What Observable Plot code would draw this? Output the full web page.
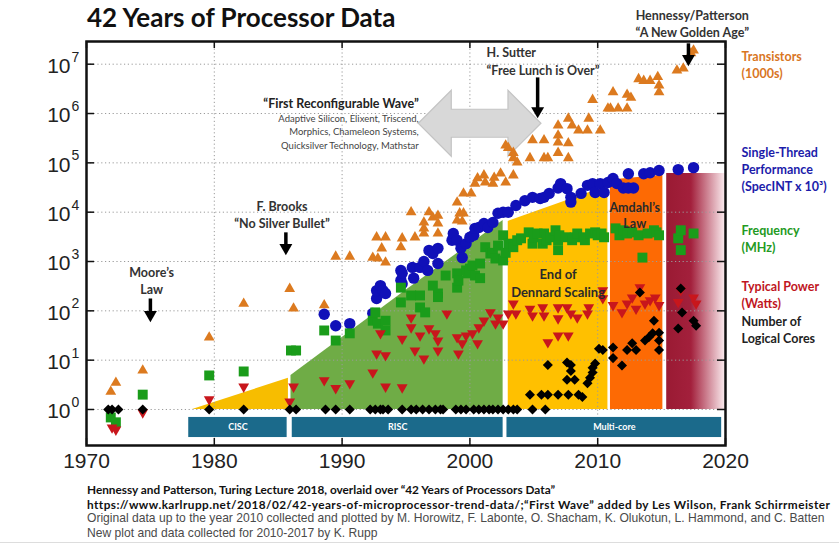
<!DOCTYPE html>
<html>
<head>
<meta charset="utf-8">
<script src="https://cdn.jsdelivr.net/npm/d3@7"></script>
<script src="https://cdn.jsdelivr.net/npm/@observablehq/plot@0.6"></script>
<style>
  body { margin: 0; background: #fff; }
  #page { position: relative; width: 839px; height: 550px; overflow: hidden; }
  #chart { position: absolute; left: 0; top: 0; }
  #title { position: absolute; left: 87px; top: 1px; margin: 0; font: bold 26px Lato, sans-serif; color: #111; }
  #caption { position: absolute; left: 87px; top: 482px; color: #111; }
  #caption div { height: 14.6px; line-height: 14.6px; white-space: nowrap; }
  #caption .b { font: bold 11.8px Lato, sans-serif; }
  #caption .wide { letter-spacing: 0.43px; }
  #caption .r { font: 12.1px "Liberation Sans", Arial, sans-serif; color: #4a4a4a; }
  #rule { position: absolute; left: 0; top: 542px; width: 839px; border-top: 1px solid #ddd; }
</style>
</head>
<body>
<div id="page">
  <div id="chart"></div>
  <h1 id="title">42 Years of Processor Data</h1>
  <div id="caption">
    <div class="b">Hennessy and Patterson, Turing Lecture 2018, overlaid over “42 Years of Processors Data”</div>
    <div class="b wide">https://www.karlrupp.net/2018/02/42-years-of-microprocessor-trend-data/;“First Wave” added by Les Wilson, Frank Schirrmeister</div>
    <div class="r">Original data up to the year 2010 collected and plotted by M. Horowitz, F. Labonte, O. Shacham, K. Olukotun, L. Hammond, and C. Batten</div>
    <div class="r">New plot and data collected for 2010-2017 by K. Rupp</div>
  </div>
  <div id="rule"></div>
</div>
<script>
// ---- Series: [year, value] ----
const transistors = [[1971.9,2.3],[1972.3,3.5],[1974.4,6.2],[1979.6,29],[1982.3,140],[1985.9,280],[1986.2,112],[1988.6,130],[1989.5,1260],[1990.6,1260],[1992.4,1200],[1992.7,3100],[1992.8,1150],[1993.1,1850],[1993.4,3100],[1993.4,960],[1994.6,1950],[1994.7,2950],[1995.4,10000],[1995.7,3100],[1996.4,6200],[1996.4,4700],[1996.4,3700],[1996.8,10000],[1997.1,7800],[1997.5,8500],[1997.5,5900],[1997.5,3700],[1999.0,15800],[1999.0,6800],[1999.2,9500],[1999.4,6500],[1999.5,9500],[1999.5,24000],[2000.1,24000],[2000.4,38000],[2000.6,49000],[2001.1,56000],[2001.2,40000],[2001.8,38000],[2001.9,50000],[2002.4,61000],[2002.8,40000],[2003.4,56000],[2002.8,226000],[2003.0,200000],[2003.4,160000],[2003.4,125000],[2003.7,102000],[2004.7,125000],[2004.9,288000],[2005.8,288000],[2005.8,125000],[2006.1,125000],[2006.9,360000],[2006.9,160000],[2006.9,575000],[2006.9,260000],[2007.7,790000],[2007.7,250000],[2007.7,125000],[2008.0,575000],[2008.5,455000],[2009.2,455000],[2009.3,790000],[2009.6,1900000],[2010.2,455000],[2010.8,1270000],[2011.0,1270000],[2011.6,1270000],[2012.3,1270000],[2011.2,2700000],[2012.3,2400000],[2012.6,2100000],[2013.2,5000000],[2013.6,4600000],[2014.1,4600000],[2014.7,5500000],[2014.8,3700000],[2014.8,2700000],[2016.2,7500000],[2016.7,8200000],[2017.3,16700000],[2017.5,19000000]];
const singleThread = [[1988.6,85],[1989.5,50],[1990.6,55],[1992.4,89],[1992.7,178],[1992.7,257],[1993.0,324],[1993.2,257],[1993.4,224],[1994.6,660],[1994.6,415],[1994.7,575],[1994.7,355],[1995.5,760],[1995.6,460],[1996.1,760],[1996.4,1000],[1996.7,660],[1996.8,1680],[1997.1,1450],[1997.5,1850],[1997.5,910],[1998.6,2700],[1998.7,3700],[1999.0,2700],[1999.3,1850],[1999.4,1200],[1999.7,2300],[2000.0,3100],[2000.3,3400],[2000.4,4700],[2000.7,4900],[2001.1,5900],[2001.4,4900],[2001.8,6200],[2002.2,9500],[2002.6,10000],[2003.0,10000],[2003.6,13700],[2004.3,17000],[2004.9,20000],[2005.5,19000],[2005.8,20000],[2006.2,24000],[2006.9,31000],[2007.1,38000],[2007.6,30000],[2007.9,20000],[2007.9,16000],[2008.7,24000],[2009.2,35000],[2009.6,38000],[2009.8,25000],[2010.2,38000],[2010.5,25000],[2010.8,40000],[2011.2,48000],[2011.5,38000],[2012.0,31000],[2012.4,31000],[2012.4,60000],[2012.8,31000],[2013.6,60000],[2014.1,63000],[2014.8,70000],[2016.3,73000],[2017.5,80000]];
const frequency = [[1971.9,0.69],[1972.3,0.55],[1974.4,2.0],[1979.6,4.9],[1982.3,5.9],[1986.0,15.7],[1986.4,15.7],[1988.6,40],[1989.5,25],[1990.6,35],[1992.4,63],[1992.6,93],[1992.8,55],[1993.4,63],[1993.4,40],[1994.6,295],[1994.6,148],[1995.4,205],[1996.1,205],[1996.1,117],[1996.5,93],[1997.1,325],[1997.5,225],[1997.5,190],[1998.1,520],[1999.0,575],[1999.0,295],[1999.1,410],[1999.7,660],[1999.8,575],[2000.0,720],[2000.2,830],[2000.4,520],[2000.8,910],[2000.8,460],[2001.2,1950],[2001.6,1450],[2001.8,1500],[2002.0,1150],[2002.2,2100],[2002.6,1050],[2002.6,3400],[2002.8,1500],[2003.0,2300],[2003.4,1950],[2003.7,2700],[2004.0,2950],[2004.6,3900],[2004.9,2300],[2005.0,3100],[2005.3,3700],[2005.7,2300],[2005.8,3700],[2006.0,2700],[2006.3,3100],[2006.7,4300],[2006.9,2700],[2006.9,1700],[2007.0,3400],[2007.5,3100],[2008.0,2700],[2008.2,3100],[2008.4,3700],[2008.9,3100],[2009.0,2700],[2009.4,3700],[2009.8,3900],[2010.0,3400],[2010.3,3700],[2010.5,3100],[2011.4,4700],[2011.7,3400],[2012.0,4300],[2012.3,3700],[2012.7,3900],[2013.2,3400],[2013.5,1200],[2013.9,3700],[2014.4,4300],[2014.6,3900],[2014.8,3400],[2016.3,2950],[2016.5,4300],[2016.5,1700],[2017.5,3700]];
const power = [[1972.0,0.43],[1972.3,0.39],[1974.4,0.87],[1979.6,1.6],[1982.3,2.9],[1985.9,1.45],[1986.2,2.9],[1988.6,3.9],[1989.5,2.7],[1990.6,3.4],[1992.4,5.6],[1992.7,13.6],[1993.0,35],[1993.4,12.5],[1993.4,2.9],[1994.7,27],[1994.7,2.8],[1995.4,73],[1995.4,46],[1995.7,15.7],[1996.1,31.6],[1996.4,10.8],[1996.8,44],[1997.3,35],[1997.5,25],[1997.5,15.7],[1998.2,88],[1999.0,29],[1999.1,13.6],[1999.4,22],[1999.7,31.6],[2000.2,35],[2000.6,22],[2000.7,46],[2001.1,63],[2001.6,93],[2002.0,55],[2002.2,73],[2002.6,55],[2003.0,88],[2003.4,140],[2003.6,88],[2004.7,110],[2004.9,80],[2005.7,117],[2005.8,80],[2006.1,23],[2006.9,117],[2006.9,70],[2006.9,31.6],[2007.6,117],[2007.7,31.6],[2007.9,88],[2008.4,73],[2009.2,88],[2009.3,117],[2010.4,260],[2010.4,180],[2011.2,130],[2011.9,93],[2012.3,140],[2012.7,185],[2013.0,110],[2013.3,300],[2013.7,140],[2014.1,163],[2014.5,185],[2014.8,130],[2016.3,150],[2016.5,260],[2017.5,185],[2017.7,140]];
const cores = [[1971.7,1],[1972.0,1],[1972.5,1],[1974.4,1],[1979.6,1],[1982.3,1],[1985.9,1],[1986.4,1],[1988.7,1],[1989.5,1],[1990.6,1],[1992.2,1],[1992.6,1],[1993.0,1],[1993.2,1],[1993.6,1],[1994.7,1],[1995.4,1],[1995.8,1],[1996.3,1],[1996.8,1],[1997.3,1],[1997.7,1],[1997.9,1],[1998.9,1],[1999.3,1],[1999.7,1],[2000.3,1],[2000.7,1],[2001.1,1],[2001.5,1],[2001.8,1],[2002.2,1],[2002.6,1],[2003.0,1],[2003.4,1],[2003.7,1],[2004.9,1],[2005.9,1],[2004.7,2],[2005.6,2],[2006.1,2],[2006.9,2],[2007.7,2],[2008.5,2],[2008.8,1.8],[2006.1,8],[2007.6,9],[2007.9,8],[2007.9,6],[2007.6,4],[2008.2,4],[2009.2,3.4],[2009.4,4.4],[2009.6,7],[2009.6,5.6],[2009.8,8.6],[2010.1,17],[2010.4,16],[2011.2,18],[2011.2,11],[2011.9,7.8],[2012.3,16],[2012.7,22],[2013.0,16],[2013.3,235],[2013.7,25],[2014.0,29],[2014.3,35],[2014.4,63],[2014.8,36],[2014.8,25],[2014.8,16],[2016.3,44],[2016.5,285],[2016.6,93],[2017.5,63],[2017.7,50]];

// ---- Era envelopes: [year, upper value], drawn down to 1 ----
const ciscWedge = [[1978.3,1],[1985.8,4.3]];
const riscEnvelope = [[1986.0,4.9],[1995.0,260],[2002.6,6800]];
const dennardEnvelope = [[2003.0,6500],[2010.8,34000]];
const amdahlEnvelope = [[2011.0,45000],[2015.1,56000]];
const recentEnvelope = [[2015.4,61000],[2020.0,61000]];

// ---- Architecture eras ----
const eraNames = ["CISC", "RISC", "Multi-core"];
const eraStart = [1978.0, 1986.1, 2002.9];
const eraEnd = [1985.7, 2002.6, 2019.7];

// ---- Ticks ----
const xTicks = [1970, 1980, 1990, 2000, 2010, 2020];
const yTicks = [1, 10, 100, 1e3, 1e4, 1e5, 1e6, 1e7];

// ---- Annotations ----
const pointerYears = [1975.0, 1985.6, 2005.3, 2017.1];
const pointerFrom = [178, 3900, 5.4e6, 2.65e7];
const pointerTo = [83, 1900, 1.13e6, 1.29e7];
const waveSpan = [1996.0, 2005.6];
const waveLevel = 6.2e5;

const legendLabels = ["Transistors\n(1000s)", "Single-Thread\nPerformance\n(SpecINT x 10³)", "Frequency\n(MHz)", "Typical Power\n(Watts)", "Number of\nLogical Cores"];
const legendColors = ["#d9761f", "#1c1caa", "#239a23", "#c0161e", "#222"];

// ---- Symbols ----
const triangleDown = {
  draw(ctx, size) {
    const s = Math.sqrt(size * 4 / Math.sqrt(3)), h = s * Math.sqrt(3) / 2;
    ctx.moveTo(0, 2 * h / 3); ctx.lineTo(s / 2, -h / 3); ctx.lineTo(-s / 2, -h / 3); ctx.closePath();
  }
};
const diamond = {
  draw(ctx, size) {
    const d = Math.sqrt(size / 2);
    ctx.moveTo(0, -d); ctx.lineTo(d, 0); ctx.lineTo(0, d); ctx.lineTo(-d, 0); ctx.closePath();
  }
};

const X = d => d[0], Y = d => d[1];
const font = "Lato, sans-serif";
const W = 839, H = 478, mL = 86, mR = 114, mT = 41, mB = 33;
const fw = W - mL - mR, fh = H - mT - mB;

// gradient definition for the post-2015 band
function defs() {
  const g = d3.create("svg:defs");
  const lg = g.append("linearGradient").attr("id", "recentFade").attr("x1", 0).attr("x2", 1).attr("y1", 0).attr("y2", 0);
  lg.append("stop").attr("offset", 0).attr("stop-color", "#9a1a33");
  lg.append("stop").attr("offset", 0.42).attr("stop-color", "#a3203c");
  lg.append("stop").attr("offset", 1).attr("stop-color", "#fbecef");
  return g.node();
}

// grey double-headed block arrow
function waveArrow(index, {x, y}) {
  const x0 = x(waveSpan[0]), x1 = x(waveSpan[1]), yc = y(waveLevel);
  const hh = 33, sh = 14, hl = 33;
  const pts = [[x0, yc], [x0 + hl, yc - hh], [x0 + hl, yc - sh], [x1 - hl, yc - sh], [x1 - hl, yc - hh], [x1, yc],
               [x1 - hl, yc + hh], [x1 - hl, yc + sh], [x0 + hl, yc + sh], [x0 + hl, yc + hh]];
  return d3.create("svg:polygon").attr("points", pts.map(p => p.join(",")).join(" "))
    .attr("fill", "#d8d8d8").attr("stroke", "#c4c4c4").attr("stroke-width", 1.2).node();
}

const eraIdx = d3.range(eraNames.length);
const ptrIdx = d3.range(pointerYears.length);
const legendLevels = [1e7, 7.7e4, 2950, 215, 42];

const chart = Plot.plot({
  width: W, height: H,
  marginLeft: mL, marginRight: mR, marginTop: mT, marginBottom: mB,
  style: {background: "transparent", overflow: "visible"},
  x: {domain: [1970, 2020], axis: null},
  y: {type: "log", domain: [10 ** -0.73, 10 ** 7.46], axis: null},
  marks: [
    defs,
    // era envelopes
    Plot.areaY(ciscWedge, {x: X, y1: 1, y2: Y, fill: "#f7bd00"}),
    Plot.areaY(riscEnvelope, {x: X, y1: 1, y2: Y, fill: "#6fac46"}),
    Plot.areaY(dennardEnvelope, {x: X, y1: 1, y2: Y, fill: "#ffc000"}),
    Plot.areaY(amdahlEnvelope, {x: X, y1: 1, y2: Y, fill: "#fd6a04"}),
    Plot.areaY(recentEnvelope, {x: X, y1: 1, y2: Y, fill: "url(#recentFade)"}),
    // dotted grid
    Plot.ruleY(yTicks, {stroke: "#9a9a9a", strokeDasharray: "1.2,2.6", strokeWidth: 1}),
    Plot.ruleX(xTicks.slice(1, -1), {stroke: "#9a9a9a", strokeDasharray: "1.2,2.6", strokeWidth: 1}),
    // architecture bands
    Plot.rect(eraIdx, {x1: i => eraStart[i], x2: i => eraEnd[i], y1: 0.27, y2: 0.69, fill: "#1b6a8b"}),
    Plot.text(eraIdx, {x: i => (eraStart[i] + eraEnd[i]) / 2, y: 0.43, text: i => eraNames[i], fill: "#fff", fontWeight: "bold", fontSize: 9, fontFamily: font}),
    // first reconfigurable wave
    waveArrow,
    // series
    Plot.dot(transistors, {x: X, y: Y, symbol: "triangle", r: 4.0, fill: "#dc7a1f"}),
    Plot.dot(singleThread, {x: X, y: Y, symbol: "circle", r: 5.7, fill: "#1010b8"}),
    Plot.dot(frequency, {x: X, y: Y, symbol: "square", r: 5.6, fill: "#1a9c1a"}),
    Plot.dot(power, {x: X, y: Y, symbol: triangleDown, r: 4.0, fill: "#c8161c"}),
    Plot.dot(cores, {x: X, y: Y, symbol: diamond, r: 4.0, fill: "#000"}),
    // era labels inside envelopes
    Plot.text(["Amdahl’s\nLaw"], {x: 2012.9, y: 8700, text: d => d, fontSize: 12.5, fontWeight: "bold", fill: "#2a2a2a", lineHeight: 1.3, fontFamily: font}),
    Plot.text(["End of\nDennard Scaling"], {x: 2006.9, y: 380, text: d => d, fontSize: 13, fontWeight: "bold", fill: "#2a2a2a", lineHeight: 1.4, fontFamily: font}),
    // pointer arrows
    Plot.link(ptrIdx, {x1: i => pointerYears[i], x2: i => pointerYears[i], y1: i => pointerFrom[i], y2: i => pointerTo[i], stroke: "#000", strokeWidth: 3.5}),
    Plot.dot(ptrIdx, {x: i => pointerYears[i], y: i => pointerTo[i], symbol: triangleDown, r: 4.8, fill: "#000"}),
    // pointer captions
    Plot.text(["Moore’s\nLaw"], {x: 1975.1, y: 415, text: d => d, fontSize: 12.5, fontWeight: "bold", fill: "#333", lineHeight: 1.3, fontFamily: font}),
    Plot.text(["F. Brooks\n“No Silver Bullet”"], {x: 1985.3, y: 9300, text: d => d, fontSize: 12.5, fontWeight: "bold", fill: "#333", lineHeight: 1.35, fontFamily: font}),
    Plot.text(["H. Sutter\n“Free Lunch is Over”"], {x: 2001.3, y: 1.2e7, text: d => d, textAnchor: "start", fontSize: 12.5, fontWeight: "bold", fill: "#333", lineHeight: 1.4, fontFamily: font}),
    Plot.text(["Hennessy/Patterson\n“A New Golden Age”"], {x: 2017.4, y: 6.9e7, text: d => d, fontSize: 12.5, fontWeight: "bold", fill: "#333", lineHeight: 1.35, fontFamily: font}),
    Plot.text(["“First Reconfigurable Wave”"], {x: 1996.0, y: 1.55e6, text: d => d, textAnchor: "end", fontSize: 12.5, fontWeight: "bold", fill: "#222", fontFamily: font}),
    Plot.text(["Adaptive Silicon, Elixent, Triscend,\nMorphics, Chameleon Systems,\nQuicksilver Technology, Mathstar"], {x: 1996.0, y: 4.4e5, text: d => d, textAnchor: "end", fontSize: 9.5, fill: "#444", lineHeight: 1.42, fontFamily: font}),
    // frame and inward ticks
    Plot.frame({stroke: "#111", strokeWidth: 2.5}),
    Plot.ruleY(yTicks, {insetRight: fw - 8, stroke: "#111", strokeWidth: 1.5}),
    Plot.ruleY(yTicks, {insetLeft: fw - 8, stroke: "#111", strokeWidth: 1.5}),
    Plot.ruleX(xTicks, {insetBottom: fh - 7, stroke: "#111", strokeWidth: 1.5}),
    Plot.ruleX(xTicks, {insetTop: fh - 7, stroke: "#111", strokeWidth: 1.5}),
    // axis labels
    Plot.text(yTicks, {y: d => d, frameAnchor: "left", text: () => "10", textAnchor: "end", dx: -16, dy: 2, fontSize: 21, fill: "#222", fontFamily: "Liberation Sans, Arial, sans-serif"}),
    Plot.text(yTicks, {y: d => d, frameAnchor: "left", text: d => String(Math.round(Math.log10(d))), textAnchor: "start", dx: -15, dy: -7, fontSize: 14, fill: "#222", fontFamily: "Liberation Sans, Arial, sans-serif"}),
    Plot.text(xTicks, {x: d => d, frameAnchor: "bottom", dy: 22, text: d => String(d), fontSize: 21, fill: "#222", fontFamily: "Liberation Sans, Arial, sans-serif"}),
    // series legend beside the frame
    Plot.text(d3.range(legendLabels.length), {y: i => legendLevels[i], frameAnchor: "right", dx: 16, text: i => legendLabels[i], fill: i => legendColors[i], textAnchor: "start", fontSize: 12.5, fontWeight: "bold", lineHeight: 1.35, fontFamily: font})
  ]
});
document.getElementById("chart").append(chart);
</script>
</body>
</html>
